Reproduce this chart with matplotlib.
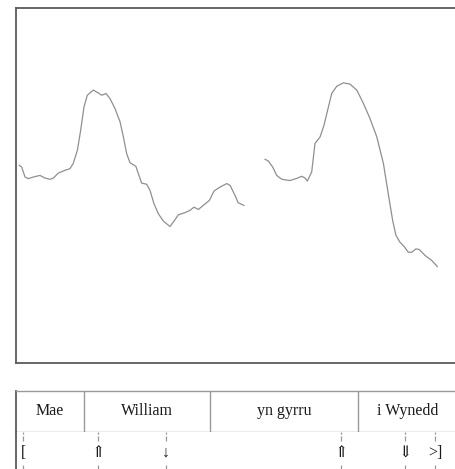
import matplotlib
matplotlib.use('Agg')
from matplotlib import pyplot as plt

plt.rcParams['font.family'] = ['Liberation Serif', 'DejaVu Serif']

# F0 contour, two voiced stretches (time in s, F0 in Hz)
time_1 = [0.015, 0.026, 0.041, 0.056, 0.079, 0.109, 0.132, 0.155, 0.170, 0.192,
          0.223, 0.245, 0.260, 0.279, 0.294, 0.309, 0.324, 0.351, 0.374, 0.390,
          0.409, 0.427, 0.450, 0.473, 0.488, 0.503, 0.518, 0.545, 0.556, 0.571,
          0.594, 0.609, 0.627, 0.647, 0.670, 0.700, 0.718, 0.738, 0.768, 0.791,
          0.809, 0.829, 0.851, 0.879, 0.900, 0.927, 0.958, 0.973, 0.995, 1.010,
          1.036]
f0_1 = [161.3, 160.3, 154.7, 153.8, 154.7, 155.6, 154.1, 153.4, 154.1, 156.9,
        158.5, 159.4, 162.3, 169.8, 181.1, 194.2, 200.8, 203.7, 202.1, 200.8,
        201.8, 199.0, 193.3, 185.8, 177.3, 167.9, 162.8, 160.7, 156.6, 151.3,
        150.6, 147.2, 139.7, 134.0, 129.8, 126.8, 129.8, 133.4, 134.6, 135.9,
        137.7, 136.4, 138.7, 141.5, 146.8, 149.0, 151.0, 150.0, 144.4, 140.2,
        138.7]

time_2 = [1.132, 1.147, 1.167, 1.185, 1.208, 1.245, 1.273, 1.299, 1.314, 1.324,
          1.344, 1.359, 1.382, 1.400, 1.420, 1.435, 1.458, 1.488, 1.518, 1.549,
          1.579, 1.609, 1.640, 1.670, 1.692, 1.712, 1.727, 1.745, 1.764, 1.783,
          1.799, 1.818, 1.833, 1.859, 1.890, 1.915]
f0_2 = [164.7, 163.7, 160.3, 155.6, 153.4, 152.7, 153.8, 155.1, 154.1, 152.4,
        157.5, 173.6, 177.3, 183.9, 194.2, 201.8, 205.9, 207.8, 207.1, 203.7,
        196.2, 187.7, 177.3, 162.3, 145.3, 130.2, 121.8, 118.0, 115.5, 112.3,
        112.3, 114.2, 113.8, 110.5, 107.6, 104.2]

# word tier
words = ['Mae', 'William', 'yn gyrru', 'i Wynedd']
word_bounds = [0.0, 0.309, 0.882, 1.555, 2.009]

# tone tier
tone_times = [0.032, 0.373, 0.682, 1.477, 1.768, 1.905]
tone_labels = ['[', '\u21d1', '\u2193', '\u21d1', '\u21d3', '>]']

t_max = 2.009
f0_min, f0_max = 50, 250

W, H = 456, 469
box_color = '#5a5a5a'
line_color = '#999999'

fig = plt.figure(figsize=(W / 100, H / 100), dpi=100)


def px_axes(x0, y0, x1, y1):
    return fig.add_axes([x0 / W, 1 - y1 / H, (x1 - x0) / W, (y1 - y0) / H])


# pitch panel
ax = px_axes(16, 8, 458, 362.7)
ax.plot(time_1, f0_1, color='#8f8f8f', lw=0.9)
ax.plot(time_2, f0_2, color='#8f8f8f', lw=0.9)
ax.set_xlim(0, t_max)
ax.set_ylim(f0_min, f0_max)
ax.set_xticks([])
ax.set_yticks([])
for s in ax.spines.values():
    s.set_color(box_color)
    s.set_linewidth(1.3)

# word tier
ax_w = px_axes(16, 391, 458, 431.7)
ax_w.set_xlim(0, t_max)
ax_w.set_ylim(0, 1)
ax_w.set_xticks([])
ax_w.set_yticks([])
for s in ax_w.spines.values():
    s.set_color(line_color)
    s.set_linewidth(1.0)
ax_w.spines['left'].set_color(box_color)
ax_w.spines['left'].set_linewidth(1.3)
for b in word_bounds[1:-1]:
    ax_w.axvline(b, color=line_color, lw=1.0)
for i, w in enumerate(words):
    ax_w.text((word_bounds[i] + word_bounds[i + 1]) / 2, 0.5, w,
              ha='center', va='center', fontsize=11.5, color='#1a1a1a')

# tone tier
ax_t = px_axes(16, 431.7, 458, 480)
ax_t.set_xlim(0, t_max)
ax_t.set_ylim(0, 1)
ax_t.set_xticks([])
ax_t.set_yticks([])
ax_t.spines['top'].set_visible(False)
ax_t.spines['right'].set_visible(False)
ax_t.spines['bottom'].set_visible(False)
ax_t.spines['left'].set_color(box_color)
ax_t.spines['left'].set_linewidth(1.3)
for x, lab in zip(tone_times, tone_labels):
    ax_t.vlines(x, 0.81, 1.0, color=line_color, lw=0.9, linestyles=(0, (4, 1.5)))
    ax_t.vlines(x, 0.0, 0.31, color=line_color, lw=0.9, linestyles=(0, (4, 1.5)))
    ax_t.text(x, 0.56, lab, ha='center', va='center', fontsize=11.5, color='#1a1a1a')

fig.savefig('out.png', dpi=100)
